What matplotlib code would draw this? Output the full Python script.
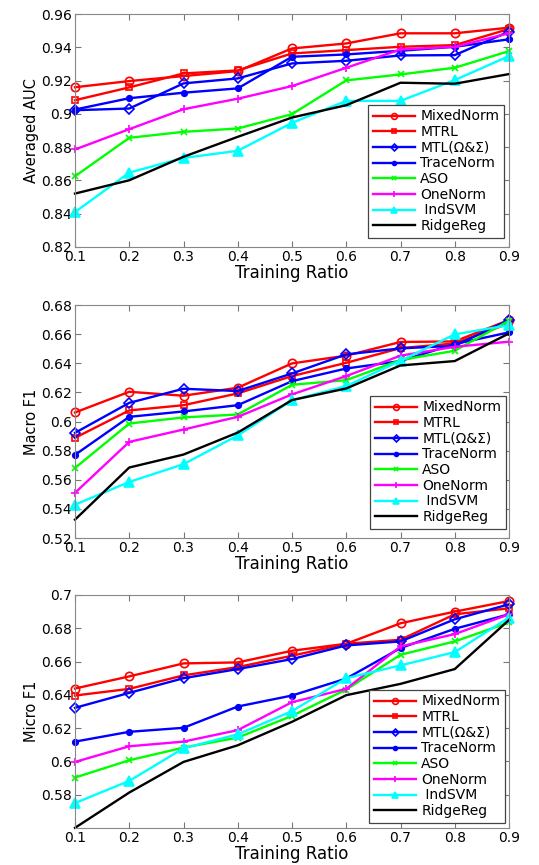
import numpy as np
import matplotlib
matplotlib.use('Agg')
from matplotlib import pyplot as plt

plt.rcParams['font.family'] = ['DejaVu Sans']

ratio = [0.1, 0.2, 0.3, 0.4, 0.5, 0.6, 0.7, 0.8, 0.9]
methods = ['MixedNorm', 'MTRL', 'MTL(\u03a9&\u03a3)', 'TraceNorm', 'ASO',
           'OneNorm', ' IndSVM', 'RidgeReg']

# Averaged AUC
auc_mixednorm = [0.916, 0.9197, 0.9227, 0.9257, 0.9393, 0.9423, 0.9484, 0.9484, 0.9518]
auc_mtrl = [0.9082, 0.9159, 0.9243, 0.9261, 0.9363, 0.9383, 0.9403, 0.9413, 0.951]
auc_mtl = [0.9022, 0.9032, 0.9183, 0.9213, 0.9303, 0.9319, 0.9351, 0.9353, 0.9494]
auc_tracenorm = [0.9026, 0.9094, 0.9127, 0.9153, 0.9343, 0.9357, 0.9379, 0.9403, 0.9448]
auc_aso = [0.8625, 0.8856, 0.8892, 0.8912, 0.8998, 0.9201, 0.9237, 0.9277, 0.9377]
auc_onenorm = [0.8786, 0.8908, 0.9028, 0.9091, 0.9167, 0.9277, 0.9387, 0.9403, 0.9484]
auc_indsvm = [0.841, 0.8647, 0.8735, 0.8778, 0.8946, 0.9078, 0.9078, 0.9203, 0.9347]
auc_ridgereg = [0.8521, 0.8601, 0.8742, 0.8862, 0.8978, 0.9052, 0.9187, 0.9181, 0.9239]

# Macro F1
mac_mixednorm = [0.6062, 0.6204, 0.6177, 0.6232, 0.6399, 0.6452, 0.6546, 0.655, 0.6697]
mac_mtrl = [0.5888, 0.6076, 0.6112, 0.6193, 0.6312, 0.6403, 0.6504, 0.6536, 0.6674]
mac_mtl = [0.5922, 0.6128, 0.6225, 0.6209, 0.633, 0.6461, 0.6502, 0.652, 0.6697]
mac_tracenorm = [0.5771, 0.6032, 0.6069, 0.6112, 0.6277, 0.6364, 0.6415, 0.6532, 0.6612]
mac_aso = [0.5681, 0.5986, 0.6028, 0.6048, 0.6252, 0.6284, 0.6422, 0.6486, 0.6692]
mac_onenorm = [0.551, 0.586, 0.5945, 0.6032, 0.6186, 0.6312, 0.6452, 0.6513, 0.6548]
mac_indsvm = [0.5429, 0.5585, 0.5707, 0.5904, 0.6147, 0.6243, 0.6417, 0.6598, 0.6662]
mac_ridgereg = [0.5326, 0.5684, 0.5773, 0.5924, 0.6147, 0.6227, 0.6385, 0.6415, 0.6605]

# Micro F1
mic_mixednorm = [0.6438, 0.6511, 0.6589, 0.6595, 0.6665, 0.6707, 0.683, 0.69, 0.6964]
mic_mtrl = [0.6396, 0.6436, 0.6517, 0.6567, 0.6635, 0.6707, 0.6731, 0.6884, 0.692]
mic_mtl = [0.6322, 0.6412, 0.65, 0.6555, 0.6615, 0.6697, 0.6721, 0.6854, 0.6944]
mic_tracenorm = [0.6119, 0.6178, 0.6202, 0.633, 0.6396, 0.6498, 0.6681, 0.6797, 0.6884]
mic_aso = [0.5903, 0.6007, 0.6083, 0.6143, 0.6274, 0.6432, 0.6641, 0.6721, 0.6835]
mic_onenorm = [0.5997, 0.6091, 0.6119, 0.6188, 0.6356, 0.6436, 0.6691, 0.6765, 0.6884]
mic_indsvm = [0.575, 0.5883, 0.6079, 0.6163, 0.6302, 0.65, 0.6577, 0.6657, 0.6864]
mic_ridgereg = [0.5601, 0.5813, 0.5997, 0.6097, 0.6238, 0.6398, 0.6466, 0.6555, 0.685]

styles = [
    dict(color='red', marker='o', mfc='none', ms=6),
    dict(color='red', marker='s', mfc='none', ms=5),
    dict(color='blue', marker='D', mfc='none', ms=5),
    dict(color='blue', marker='o', ms=4),
    dict(color='lime', marker='x', ms=4),
    dict(color='magenta', marker='+', ms=6),
    dict(color='cyan', marker='^', ms=7),
    dict(color='black', marker=None),
]

panels = [
    dict(data=[auc_mixednorm, auc_mtrl, auc_mtl, auc_tracenorm, auc_aso,
               auc_onenorm, auc_indsvm, auc_ridgereg],
         ylabel='Averaged AUC', ylim=(0.82, 0.96),
         yticks=[0.82, 0.84, 0.86, 0.88, 0.9, 0.92, 0.94, 0.96],
         box=(75, 14, 509, 247), leg=(504, 238)),
    dict(data=[mac_mixednorm, mac_mtrl, mac_mtl, mac_tracenorm, mac_aso,
               mac_onenorm, mac_indsvm, mac_ridgereg],
         ylabel='Macro F1', ylim=(0.52, 0.68),
         yticks=[0.52, 0.54, 0.56, 0.58, 0.6, 0.62, 0.64, 0.66, 0.68],
         box=(75, 305, 509, 538), leg=(506, 529)),
    dict(data=[mic_mixednorm, mic_mtrl, mic_mtl, mic_tracenorm, mic_aso,
               mic_onenorm, mic_indsvm, mic_ridgereg],
         ylabel='Micro F1', ylim=(0.56, 0.70),
         yticks=[0.58, 0.6, 0.62, 0.64, 0.66, 0.68, 0.7],
         box=(75, 595, 509, 828), leg=(505, 823)),
]

W, H = 539, 865
fig = plt.figure(figsize=(W / 100, H / 100), dpi=100)

for p in panels:
    l, t, r, b = p['box']
    ax = fig.add_axes([l / W, (H - b) / H, (r - l) / W, (b - t) / H])
    for vals, name, st in zip(p['data'], methods, styles):
        ax.plot(ratio, vals, label=name, lw=1.7, mew=1.2, clip_on=False, **st)
    ax.set_xlim(0.1, 0.9)
    ax.set_ylim(*p['ylim'])
    ax.set_xticks(ratio)
    ax.set_xticklabels(['%g' % v for v in ratio])
    ax.set_yticks(p['yticks'])
    ax.set_yticklabels(['%g' % v for v in p['yticks']])
    ax.tick_params(direction='in', top=True, right=True, length=4,
                   color='#777777', labelsize=10, pad=2)
    for s in ax.spines.values():
        s.set_color('#888888')
        s.set_linewidth(0.8)
    ax.set_xlabel('Training Ratio', fontsize=12, labelpad=0)
    ax.set_ylabel(p['ylabel'], fontsize=10.5, labelpad=2)
    lx, ly = p['leg']
    leg = ax.legend(loc='lower right', bbox_to_anchor=(lx / W, (H - ly) / H),
                    bbox_transform=fig.transFigure, fontsize=10,
                    fancybox=False, edgecolor='#444444', framealpha=1,
                    handlelength=3.0, labelspacing=0.12, borderpad=0.35,
                    handletextpad=0.4, borderaxespad=0, markerscale=0.7)
    leg.get_frame().set_linewidth(0.9)

fig.savefig('out.png', dpi=100)
